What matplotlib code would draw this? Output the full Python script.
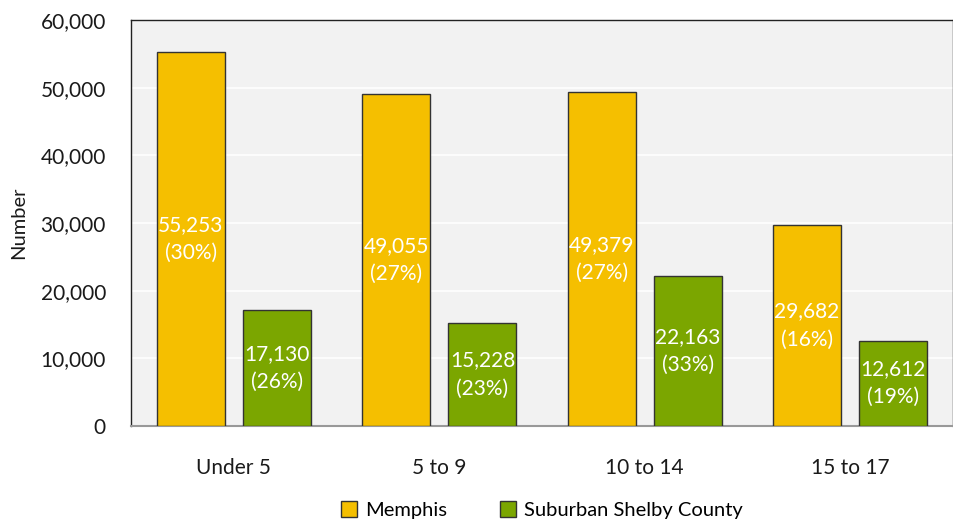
import numpy as np
import matplotlib.pyplot as plt

plt.rcParams['font.family'] = ['Lato', 'DejaVu Sans']

groups = ['Under 5', '5 to 9', '10 to 14', '15 to 17']
memphis = [55253, 49055, 49379, 29682]
memphis_pct = [30, 27, 27, 16]
suburban = [17130, 15228, 22163, 12612]
suburban_pct = [26, 23, 33, 19]

yellow = '#F5BF00'
green = '#7BA600'

fig = plt.figure(figsize=(9.54, 5.23), dpi=100)
ax = fig.add_axes([131/954, 1-426/523, 822/954, 406/523])
ax.set_facecolor('#F2F2F2')

x = np.arange(len(groups))
w = 0.33
off = 0.21
b1 = ax.bar(x - off, memphis, w, color=yellow, edgecolor='#333333', linewidth=1, label='Memphis', zorder=3)
b2 = ax.bar(x + off, suburban, w, color=green, edgecolor='#333333', linewidth=1, label='Suburban Shelby County', zorder=3)

for bars, vals, pcts in ((b1, memphis, memphis_pct), (b2, suburban, suburban_pct)):
    for r, v, p in zip(bars, vals, pcts):
        ax.text(r.get_x() + r.get_width()/2, v/2, f'{v:,}\n({p}%)', ha='center', va='center',
                color='white', fontsize=15, linespacing=1.5, zorder=4)

ax.set_xlim(-0.5, 3.5)
ax.set_ylim(0, 60000)
ax.set_yticks(np.arange(0, 60001, 10000))
ax.set_yticklabels([f'{t:,}' for t in range(0, 60001, 10000)])
ax.set_xticks(x)
ax.set_xticklabels(groups)
ax.tick_params(axis='both', length=0, labelsize=15, colors='#1a1a1a')
ax.tick_params(axis='x', pad=23)
ax.tick_params(axis='y', pad=18)
ax.grid(axis='y', color='white', linewidth=1.2, zorder=1)
ax.set_axisbelow(True)
ax.set_ylabel('Number', fontsize=14.5, color='#1a1a1a', labelpad=10)

for s in ('top', 'right', 'left'):
    ax.spines[s].set_color('#222222')
    ax.spines[s].set_linewidth(1)
ax.spines['bottom'].set_color('#999999')
ax.spines['bottom'].set_linewidth(1.5)

ax.legend(loc='center', bbox_to_anchor=(0.5, -(510-426)/406), ncol=2, frameon=False,
          fontsize=14.5, handlelength=0.8, handleheight=0.8, handletextpad=0.4, columnspacing=2.6)

fig.savefig('out.png', dpi=100)
